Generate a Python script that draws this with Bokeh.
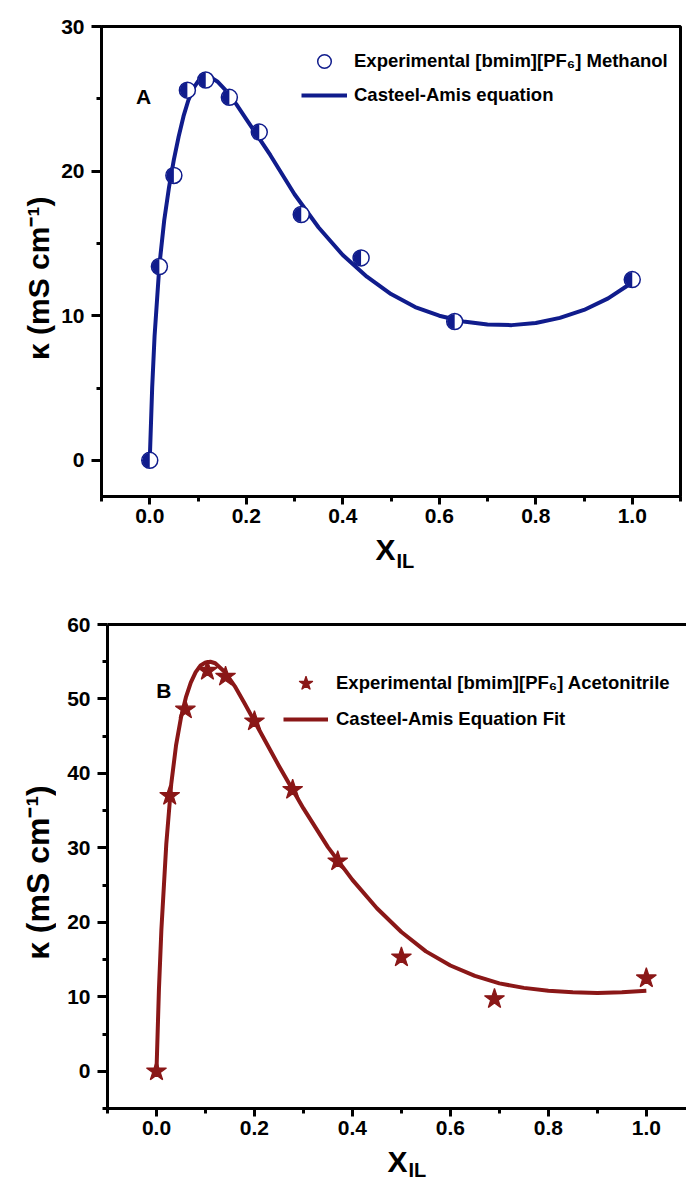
import math
from bokeh.plotting import figure
from bokeh.models import (Range1d, FixedTicker, LinearAxis, Legend, LegendItem, Label,
                          ColumnDataSource)
from bokeh.layouts import column, row
from bokeh.embed import file_html
from bokeh.resources import INLINE

# ---------------- data ----------------
# Panel A : [bmim][PF6] + Methanol
a_exp_x = [0.0, 0.02, 0.05, 0.078, 0.116, 0.165, 0.227, 0.314, 0.438, 0.632, 1.0]
a_exp_y = [0.0, 13.4, 19.7, 25.6, 26.3, 25.1, 22.7, 17.0, 14.0, 9.6, 12.5]
a_fit_x = [0.0, 0.005, 0.01, 0.02, 0.03, 0.04, 0.05, 0.06, 0.07, 0.08, 0.09, 0.10, 0.11,
           0.12, 0.13, 0.14, 0.16, 0.18, 0.20, 0.25, 0.30, 0.35, 0.40, 0.45, 0.50, 0.55,
           0.60, 0.65, 0.70, 0.75, 0.80, 0.85, 0.90, 0.95, 1.00]
a_fit_y = [0.0, 5.0, 8.6, 13.5, 16.6, 18.9, 20.8, 22.4, 23.8, 24.9, 25.7, 26.2, 26.45,
           26.5, 26.4, 26.2, 25.5, 24.6, 23.6, 21.1, 18.4, 16.1, 14.2, 12.7, 11.5, 10.6,
           10.0, 9.6, 9.4, 9.35, 9.5, 9.85, 10.4, 11.2, 12.3]

# Panel B : [bmim][PF6] + Acetonitrile
b_exp_x = [0.0, 0.027, 0.059, 0.104, 0.141, 0.2, 0.278, 0.37, 0.5, 0.69, 1.0]
b_exp_y = [0.0, 37.0, 48.6, 53.8, 53.0, 47.0, 37.8, 28.2, 15.3, 9.7, 12.5]
b_fit_x = [0.0, 0.005, 0.01, 0.02, 0.03, 0.04, 0.05, 0.06, 0.07, 0.08, 0.09, 0.10, 0.11,
           0.12, 0.14, 0.16, 0.18, 0.20, 0.25, 0.30, 0.35, 0.40, 0.45, 0.50, 0.55, 0.60,
           0.65, 0.70, 0.75, 0.80, 0.85, 0.90, 0.95, 1.00]
b_fit_y = [0.0, 11.0, 19.0, 30.5, 38.5, 43.8, 47.5, 50.2, 52.2, 53.6, 54.5, 54.9, 55.0,
           54.8, 53.6, 51.7, 49.4, 47.0, 41.0, 35.3, 30.1, 25.7, 21.9, 18.7, 16.1, 14.2,
           12.8, 11.8, 11.2, 10.8, 10.6, 10.5, 10.6, 10.8]

# ticks
x_major = [0.0, 0.2, 0.4, 0.6, 0.8, 1.0]
x_minor = [-0.1, 0.1, 0.3, 0.5, 0.7, 0.9, 1.1]
x_tick_labels = ["0.0", "0.2", "0.4", "0.6", "0.8", "1.0"]
a_y_major = [0, 10, 20, 30]
a_y_minor = [5, 15, 25]
b_y_major = [0, 10, 20, 30, 40, 50, 60]
b_y_minor = [-5, 5, 15, 25, 35, 45, 55]

# texts
a_legend = ["Experimental [bmim][PF\u2086] Methanol", "Casteel-Amis equation"]
b_legend = ["Experimental [bmim][PF\u2086] Acetonitrile", "Casteel-Amis Equation Fit"]
y_title = "\u03ba (mS cm\u207b\u00b9)"
x_title_main = "X"
x_title_sub = "IL"

NAVY = "#101C8C"
DRED = "#8A1717"
FONT = "Liberation Sans"


def style_axes(p, y_major, y_minor):
    p.xgrid.grid_line_color = None
    p.ygrid.grid_line_color = None
    p.xaxis.ticker = FixedTicker(ticks=x_major, minor_ticks=x_minor)
    p.xaxis.major_label_overrides = {t: s for t, s in zip(x_major, x_tick_labels)}
    p.yaxis.ticker = FixedTicker(ticks=y_major, minor_ticks=y_minor)
    for ax in (p.xaxis[0], p.yaxis[0]):
        ax.axis_line_width = 3
        ax.axis_line_color = "black"
        ax.major_tick_line_width = 3
        ax.minor_tick_line_width = 3
        ax.major_tick_line_color = "black"
        ax.minor_tick_line_color = "black"
        ax.major_tick_in = 0
        ax.minor_tick_in = 0
        ax.major_label_text_font = FONT
        ax.major_label_text_font_style = "bold"
        ax.major_label_text_font_size = "21px"
        ax.major_label_text_color = "black"
    p.xaxis.major_tick_out = 8
    p.xaxis.minor_tick_out = 5
    p.xaxis.major_label_standoff = 4
    p.yaxis.major_tick_out = 10
    p.yaxis.minor_tick_out = 5
    p.yaxis.major_label_standoff = 7
    p.background_fill_color = "white"
    p.border_fill_color = "white"


def strip(w, h):
    s = figure(width=w, height=h, x_range=Range1d(0, w), y_range=Range1d(0, h),
               output_backend="svg", toolbar_location=None, min_border=0,
               x_axis_location=None, y_axis_location=None)
    s.xgrid.grid_line_color = None
    s.ygrid.grid_line_color = None
    s.outline_line_color = None
    s.background_fill_color = "white"
    s.border_fill_color = "white"
    return s


def add_text(p, x, y, text, size, align="center", angle=0.0):
    p.add_layout(Label(x=x, y=y, text=text, text_font=FONT, text_font_style="bold",
                       text_font_size=size, text_align=align, text_baseline="middle",
                       angle=angle, text_color="black"))


# ---------------- Panel A ----------------
pa = figure(width=628, height=532, x_range=Range1d(-0.1, 1.1), y_range=Range1d(-2.5, 30),
            output_backend="svg", toolbar_location=None,
            min_border_left=45, min_border_right=4, min_border_top=26, min_border_bottom=36)
style_axes(pa, a_y_major, a_y_minor)
pa.outline_line_color = "black"
pa.outline_line_width = 3
pa.outline_line_alpha = 1.0

src_a = ColumnDataSource(dict(x=a_exp_x, y=a_exp_y))
ra_line = pa.line(a_fit_x, a_fit_y, line_color=NAVY, line_width=4, line_join="round")
ra_circ = pa.scatter("x", "y", source=src_a, marker="circle", size=16, fill_color="white",
                     line_color=NAVY, line_width=1.5)
pa.wedge("x", "y", source=src_a, radius=7.6, radius_units="screen",
         start_angle=math.pi / 2, end_angle=3 * math.pi / 2, fill_color=NAVY, line_color=None)

leg_a = Legend(items=[LegendItem(label=a_legend[0], renderers=[ra_circ]),
                      LegendItem(label=a_legend[1], renderers=[ra_line])],
               location=(200, 384), glyph_width=46, glyph_height=34, label_standoff=7,
               padding=0, spacing=0, margin=0, border_line_color=None,
               background_fill_alpha=0, label_text_font=FONT, label_text_font_style="bold",
               label_text_font_size="18.5px", label_text_color="black")
pa.add_layout(leg_a)
add_text(pa, -0.013, 25.16, "A", "21px")

ya = strip(56, 532)
add_text(ya, 38, 247, y_title, "30px", angle=math.pi / 2)

xa = strip(684, 52)
add_text(xa, 385, 35, x_title_main, "30px")
add_text(xa, 396, 24, x_title_sub, "20px", align="left")

# ---------------- Panel B ----------------
pb = figure(width=630, height=560, x_range=Range1d(-0.1, 1.082), y_range=Range1d(-5, 60),
            output_backend="svg", toolbar_location=None,
            min_border_left=51, min_border_right=0, min_border_top=40, min_border_bottom=36)
style_axes(pb, b_y_major, b_y_minor)
pb.outline_line_color = None
top_axis = LinearAxis(ticker=FixedTicker(ticks=[]), axis_line_width=3, axis_line_color="black",
                      major_tick_line_color=None, minor_tick_line_color=None,
                      major_tick_out=0, major_label_text_font_size="1px")
pb.add_layout(top_axis, "above")

src_b = ColumnDataSource(dict(x=b_exp_x, y=b_exp_y))
rb_line = pb.line(b_fit_x, b_fit_y, line_color=DRED, line_width=4, line_join="round")
rb_star = pb.scatter("x", "y", source=src_b, marker="star", size=21, fill_color=DRED,
                     line_color=DRED, line_width=1.2)

leg_b = Legend(items=[LegendItem(label=b_legend[0], renderers=[rb_star]),
                      LegendItem(label=b_legend[1], renderers=[rb_line])],
               location=(176, 371), glyph_width=45, glyph_height=36, label_standoff=8,
               padding=0, spacing=0, margin=0, border_line_color=None,
               background_fill_alpha=0, label_text_font=FONT, label_text_font_style="bold",
               label_text_font_size="18.5px", label_text_color="black")
pb.add_layout(leg_b)
add_text(pb, 0.015, 51.1, "B", "21px")

yb = strip(56, 560)
add_text(yb, 37.5, 273, y_title, "32px", angle=math.pi / 2)

xb = strip(686, 37)
add_text(xb, 397, 20, x_title_main, "30px")
add_text(xb, 408, 12, x_title_sub, "20px", align="left")

layout = column(row(ya, pa, spacing=0), xa, row(yb, pb, spacing=0), xb, spacing=0)
open("out.html", "w").write(file_html(layout, INLINE))
